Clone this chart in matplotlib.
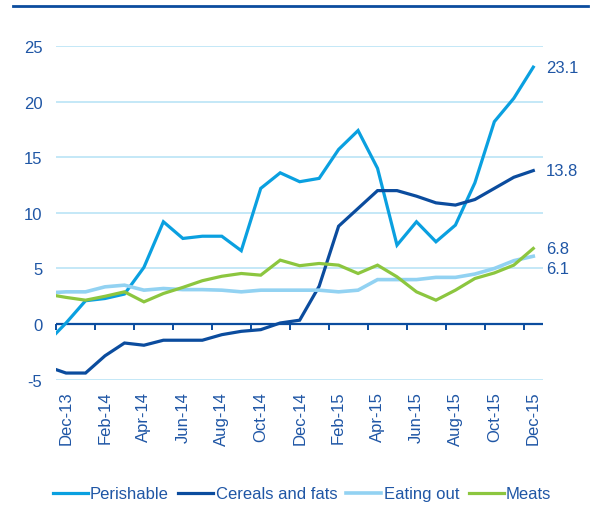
import numpy as np
import matplotlib
matplotlib.use('Agg')
import matplotlib.pyplot as plt
from matplotlib.lines import Line2D

plt.rcParams['font.family'] = ['Liberation Sans', 'DejaVu Sans']

# monthly values, Nov-13 .. Dec-15 (Nov-13 only shows as the stub at the left edge)
months = ['Nov-13', 'Dec-13', 'Jan-14', 'Feb-14', 'Mar-14', 'Apr-14', 'May-14', 'Jun-14',
          'Jul-14', 'Aug-14', 'Sep-14', 'Oct-14', 'Nov-14', 'Dec-14', 'Jan-15', 'Feb-15',
          'Mar-15', 'Apr-15', 'May-15', 'Jun-15', 'Jul-15', 'Aug-15', 'Sep-15', 'Oct-15',
          'Nov-15', 'Dec-15']
perishable = [-1.7, 0.1, 2.1, 2.3, 2.7, 5.1, 9.2, 7.7, 7.9, 7.9, 6.6, 12.2, 13.6, 12.8,
              13.1, 15.7, 17.4, 14.0, 7.1, 9.2, 7.4, 8.9, 12.7, 18.2, 20.3, 23.1]
cereals = [-3.8, -4.4, -4.4, -2.85, -1.7, -1.9, -1.45, -1.45, -1.45, -0.95, -0.65, -0.5,
           0.1, 0.35, 3.4, 8.8, 10.4, 12.0, 12.0, 11.5, 10.9, 10.7, 11.2, 12.2, 13.2, 13.8]
eating_out = [2.8, 2.9, 2.9, 3.35, 3.5, 3.05, 3.2, 3.1, 3.1, 3.05, 2.9, 3.05, 3.05, 3.05,
              3.05, 2.9, 3.05, 4.0, 4.0, 4.0, 4.2, 4.2, 4.5, 5.0, 5.7, 6.1]
meats = [2.7, 2.4, 2.15, 2.5, 2.9, 2.0, 2.75, 3.3, 3.9, 4.3, 4.55, 4.4, 5.75, 5.25, 5.45,
         5.3, 4.55, 5.3, 4.25, 2.9, 2.15, 3.05, 4.1, 4.6, 5.3, 6.8]
tick_labels = ['Dec-13', 'Feb-14', 'Apr-14', 'Jun-14', 'Aug-14', 'Oct-14', 'Dec-14',
               'Feb-15', 'Apr-15', 'Jun-15', 'Aug-15', 'Oct-15', 'Dec-15']
y_ticks = [-5, 0, 5, 10, 15, 20, 25]

navy = '#0b4c9e'
text_c = '#1f56a5'
grid_c = '#c4e8f7'

x = np.arange(len(months)) - 1  # Dec-13 at 0

fig = plt.figure(figsize=(5.96, 5.06), dpi=100)
ax = fig.add_axes([0.0945, 0.2476, 0.8166, 0.6595])

series = [
    ('Perishable', perishable, '#0aa0e0', 2.3),
    ('Cereals and fats', cereals, navy, 2.3),
    ('Eating out', eating_out, '#92d2f2', 2.6),
    ('Meats', meats, '#8cc63f', 2.3),
]
for name, vals, col, lw in series:
    ax.plot(x, vals, color=col, lw=lw, label=name, zorder=3, solid_joinstyle='miter')

ax.set_xlim(-0.5, 24.5)
ax.set_ylim(-5, 25)
ax.set_yticks(y_ticks)
ax.set_yticklabels([str(v) for v in y_ticks])
ax.yaxis.grid(True, color=grid_c, lw=1.4)
ax.set_axisbelow(True)
for s in ax.spines.values():
    s.set_visible(False)
ax.tick_params(axis='y', length=0, pad=10, labelsize=12, labelcolor=text_c)

ax.set_xticks(np.arange(0, 25, 2))
ax.set_xticklabels(tick_labels, rotation=90)
ax.tick_params(axis='x', length=0, pad=8, labelsize=12, labelcolor=text_c)

# zero line with tick marks between categories
ax.axhline(0, color=navy, lw=1.6, zorder=2)
bounds = np.arange(-0.5, 24, 2)
ax.plot(bounds, np.zeros(len(bounds)), ls='none', marker=3, markersize=4.5,
        markeredgewidth=1.4, color=navy, zorder=2, clip_on=False)

# end-value labels
ends = [(perishable, 0), (cereals, 0), (meats, 0), (eating_out, -9)]
for vals, dy in ends:
    ax.annotate(f'{vals[-1]:.1f}', xy=(x[-1], vals[-1]), xytext=(9, dy), textcoords='offset points',
                ha='left', va='center', fontsize=12, color=text_c, annotation_clip=False)

fig.legend(loc='center', bbox_to_anchor=(302 / 596, 11 / 506), ncol=4, frameon=False,
           fontsize=12, handlelength=2.1, handletextpad=0.15, columnspacing=0.55,
           labelcolor=text_c, borderpad=0)

fig.add_artist(Line2D([13 / 596, 588 / 596], [1 - 7 / 506, 1 - 7 / 506], color=navy, lw=2))

fig.savefig('out.png', dpi=100)
